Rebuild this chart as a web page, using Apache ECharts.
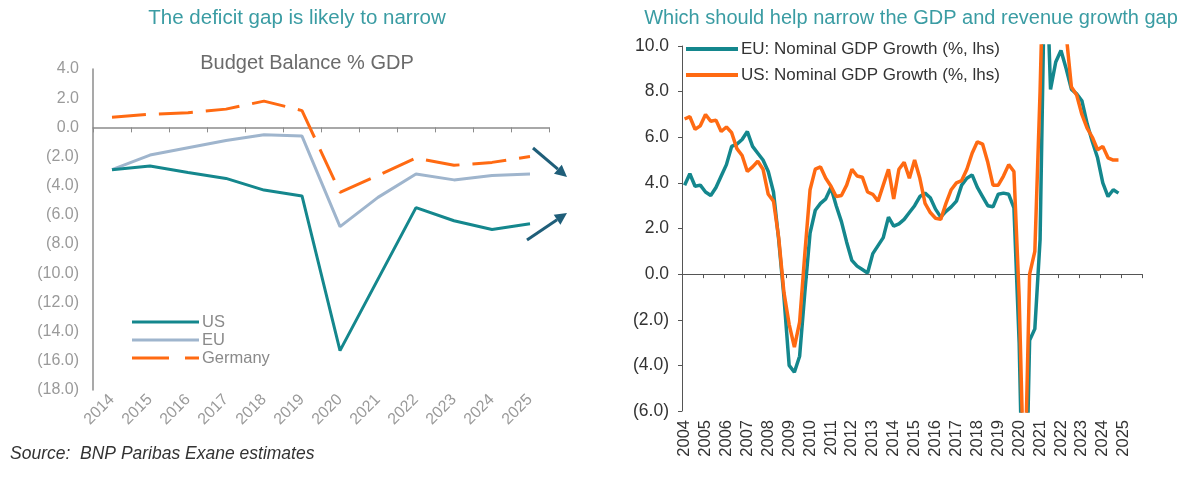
<!DOCTYPE html>
<html>
<head>
<meta charset="utf-8">
<script src="https://cdn.jsdelivr.net/npm/echarts@6/dist/echarts.min.js"></script>
<style>
  html, body { margin: 0; padding: 0; background: #fff; }
  #chart { width: 1182px; height: 484px; }
</style>
</head>
<body>
<div id="chart"></div>
<script>
// left panel: budget balance % GDP
const budgetYears = ['2014', '2015', '2016', '2017', '2018', '2019', '2020', '2021', '2022', '2023', '2024', '2025']
const usBalance = [-2.9, -2.65, -3.1, -3.5, -4.3, -4.7, -15.3, -10.4, -5.5, -6.4, -7.0, -6.6]
const euBalance = [-2.9, -1.9, -1.4, -0.9, -0.5, -0.6, -6.8, -4.8, -3.2, -3.6, -3.3, -3.2]
const deBalance = [0.7, 0.9, 1.0, 1.25, 1.8, 1.15, -4.45, -3.3, -2.1, -2.6, -2.4, -2.0]

// right panel: nominal GDP growth y/y, quarterly 2004Q1 .. 2024Q4
const gdpYears = ['2004', '2005', '2006', '2007', '2008', '2009', '2010', '2011', '2012', '2013', '2014',
    '2015', '2016', '2017', '2018', '2019', '2020', '2021', '2022', '2023', '2024', '2025']
const euGdp = [3.9, 4.4, 3.85, 3.9, 3.6, 3.45, 3.8, 4.3, 4.8, 5.6, 5.7, 5.9, 6.25, 5.6, 5.3, 5.0,
    4.5, 3.6, 1.5, -1.0, -4.0, -4.3, -3.6, -0.8, 1.8, 2.8, 3.1, 3.3, 3.8, 3.0, 2.3, 1.4,
    0.6, 0.35, 0.2, 0.05, 0.9, 1.25, 1.6, 2.5, 2.1, 2.2, 2.4, 2.7, 3.0, 3.4, 3.55, 3.35,
    2.85, 2.5, 2.75, 2.95, 3.2, 3.9, 4.2, 4.35, 3.8, 3.4, 3.0, 2.95, 3.5, 3.55, 3.5, 2.9,
    -3.0, -13.5, -2.9, -2.4, 1.5, 15.0, 8.1, 9.3, 9.8, 9.0, 8.1, 7.9, 7.6, 6.6, 5.8, 5.1,
    4.0, 3.4, 3.7, 3.55]
const usGdp = [6.8, 6.9, 6.35, 6.5, 7.0, 6.7, 6.75, 6.25, 6.45, 6.2, 5.5, 5.2, 4.5, 4.7, 4.95, 4.6,
    3.5, 3.2, 1.6, -0.8, -2.2, -3.2, -2.1, 0.9, 3.7, 4.6, 4.7, 4.2, 3.85, 3.4, 3.45, 3.9,
    4.6, 4.3, 4.25, 3.6, 3.5, 3.2, 3.9, 4.6, 3.3, 4.6, 4.9, 4.2, 5.0, 4.2, 3.1, 2.7,
    2.45, 2.4, 3.1, 3.7, 4.0, 4.1, 4.6, 5.3, 5.8, 5.7, 4.9, 3.9, 3.9, 4.3, 4.8, 4.5,
    -1.0, -10.0, 0.0, 1.0, 8.0, 17.0, 13.0, 12.0, 11.0, 10.5, 8.2, 7.85, 7.0, 6.4, 6.0, 5.45,
    5.6, 5.1, 5.0, 5.0]

const quarters = []
gdpYears.forEach(y => { for (let q = 1; q <= 4; q++) quarters.push(y + 'Q' + q) })

const TEAL = '#14878d'
const ORANGE = '#ff6a12'
const EUBLUE = '#9fb5cd'
const ARROW = '#1f5e79'
const FONT = 'Liberation Sans, Arial, sans-serif'

const fmtNeg = v => v < 0 ? '(' + Math.abs(v).toFixed(1) + ')' : v.toFixed(1)

const chart = echarts.init(document.getElementById('chart'))

function arrow(x1, y1, tx, ty) {
    const dx = tx - x1, dy = ty - y1
    const len = Math.sqrt(dx * dx + dy * dy)
    const ux = dx / len, uy = dy / len
    const bx = tx - 12 * ux, by = ty - 12 * uy
    return [
        { type: 'line', shape: { x1: x1, y1: y1, x2: bx, y2: by }, style: { stroke: ARROW, lineWidth: 3 } },
        { type: 'polygon', shape: { points: [[tx, ty], [bx - 6 * uy, by + 6 * ux], [bx + 6 * uy, by - 6 * ux]] }, style: { fill: ARROW } }
    ]
}

const solidLeft = 'path://M0,0H67V3H0Z'
const dashLeft = 'path://M0,0H37V3H0Z M53,0H67V3H53Z'
const solidRight = 'path://M0,0H52V4H0Z'

chart.setOption({
    animation: false,
    textStyle: { fontFamily: FONT },
    title: [
        { text: 'The deficit gap is likely to narrow', left: 292, top: 3, textAlign: 'center',
          textStyle: { color: '#3a9ca3', fontSize: 20.5, fontWeight: 'normal', fontFamily: FONT } },
        { text: 'Budget Balance % GDP', left: 302, top: 48, textAlign: 'center',
          textStyle: { color: '#6b6b6b', fontSize: 20, fontWeight: 'normal', fontFamily: FONT } },
        { text: 'Which should help narrow the GDP and revenue growth gap', left: 906, top: 3, textAlign: 'center',
          textStyle: { color: '#3a9ca3', fontSize: 20, fontWeight: 'normal', fontFamily: FONT } },
        { text: 'Source:  BNP Paribas Exane estimates', left: 5, top: 440,
          textStyle: { color: '#333', fontSize: 17.5, fontStyle: 'italic', fontWeight: 'normal', fontFamily: FONT } }
    ],
    legend: [
        {
            data: [{ name: 'US', icon: solidLeft }, { name: 'EU', icon: solidLeft }, { name: 'Germany', icon: dashLeft }],
            orient: 'vertical', left: 132, top: 313, padding: 0,
            itemWidth: 67, itemHeight: 3, itemGap: 0,
            textStyle: { color: '#8a8a8a', fontSize: 16.5, lineHeight: 18, fontFamily: FONT, padding: [0, 0, 0, -2] }
        },
        {
            data: [{ name: 'EU: Nominal GDP Growth (%, lhs)', icon: solidRight }, { name: 'US: Nominal GDP Growth (%, lhs)', icon: solidRight }],
            orient: 'vertical', left: 686, top: 39, padding: 0,
            itemWidth: 52, itemHeight: 4, itemGap: 6,
            textStyle: { color: '#333', fontSize: 17, lineHeight: 20, fontFamily: FONT, padding: [0, 0, 0, -2] }
        }
    ],
    grid: [
        { left: 93, top: 69, width: 456, height: 321 },
        { left: 682, top: 46, width: 460, height: 365 }
    ],
    xAxis: [
        {
            gridIndex: 0, type: 'category', data: budgetYears, boundaryGap: true,
            axisLine: { onZero: true, lineStyle: { color: '#8c8c8c', width: 1.5 } },
            axisTick: { show: true, length: 5, lineStyle: { color: '#8c8c8c' } },
            axisLabel: { show: false }
        },
        {
            gridIndex: 0, type: 'category', data: budgetYears, boundaryGap: true, position: 'bottom',
            axisLine: { show: false }, axisTick: { show: false },
            axisLabel: { rotate: 45, color: '#9a9a9a', fontSize: 16, margin: 7 }
        },
        {
            gridIndex: 1, type: 'category', data: quarters, boundaryGap: true,
            axisLine: { onZero: true, lineStyle: { color: '#555', width: 1 } },
            axisTick: { show: true, interval: 3, length: 4, lineStyle: { color: '#555' } },
            axisLabel: { show: false }
        },
        {
            gridIndex: 1, type: 'category', data: quarters, boundaryGap: true, position: 'bottom',
            axisLine: { show: false }, axisTick: { show: false },
            axisLabel: { rotate: 90, interval: 3, color: '#333', fontSize: 16.5, margin: 9,
                formatter: v => v.slice(0, 4) }
        }
    ],
    yAxis: [
        {
            gridIndex: 0, type: 'value', min: -18, max: 4, interval: 2,
            splitLine: { show: false },
            axisLine: { show: true, onZero: false, lineStyle: { color: '#8c8c8c', width: 1.5 } },
            axisTick: { show: false },
            axisLabel: { color: '#9a9a9a', fontSize: 16, margin: 14, formatter: fmtNeg }
        },
        {
            gridIndex: 1, type: 'value', min: -6, max: 10, interval: 2,
            splitLine: { show: false },
            axisLine: { show: true, onZero: false, lineStyle: { color: '#555', width: 1 } },
            axisTick: { show: true, length: 4, lineStyle: { color: '#555' } },
            axisLabel: { color: '#333', fontSize: 17.5, margin: 13, formatter: fmtNeg }
        }
    ],
    series: [
        { name: 'EU', type: 'line', xAxisIndex: 0, yAxisIndex: 0, data: euBalance, symbol: 'none',
          lineStyle: { color: EUBLUE, width: 3 }, itemStyle: { color: EUBLUE } },
        { name: 'Germany', type: 'line', xAxisIndex: 0, yAxisIndex: 0, data: deBalance, symbol: 'none',
          lineStyle: { color: ORANGE, width: 3, type: [34, 13] }, itemStyle: { color: ORANGE } },
        { name: 'US', type: 'line', xAxisIndex: 0, yAxisIndex: 0, data: usBalance, symbol: 'none',
          lineStyle: { color: TEAL, width: 3 }, itemStyle: { color: TEAL } },
        { name: 'EU: Nominal GDP Growth (%, lhs)', type: 'line', xAxisIndex: 2, yAxisIndex: 1, data: euGdp,
          symbol: 'none', clip: true, lineStyle: { color: TEAL, width: 3.5 }, itemStyle: { color: TEAL } },
        { name: 'US: Nominal GDP Growth (%, lhs)', type: 'line', xAxisIndex: 2, yAxisIndex: 1, data: usGdp,
          symbol: 'none', clip: true, lineStyle: { color: ORANGE, width: 3.5 }, itemStyle: { color: ORANGE } }
    ],
    graphic: [].concat(arrow(533, 148, 567, 177), arrow(527, 240, 567, 213))
})
</script>
</body>
</html>
